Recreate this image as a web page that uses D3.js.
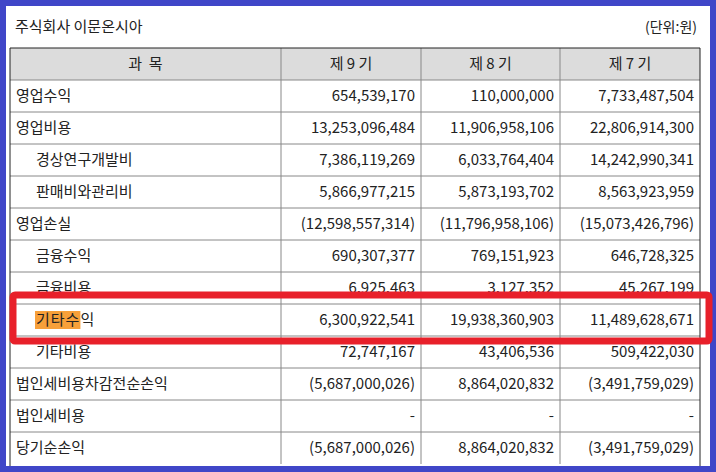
<!DOCTYPE html><html><head><meta charset="utf-8"><script src="https://cdn.jsdelivr.net/npm/d3@7"></script>
<style>body{margin:0;background:#fff}</style></head><body><svg id="c" width="716" height="472"></svg>
<script>
const title = "주식회사 이문온시아";
const unit = "(단위:원)";
const headers = ["과  목", "제 9 기", "제 8 기", "제 7 기"];
const items = ["영업수익","영업비용","경상연구개발비","판매비와관리비","영업손실","금융수익","금융비용","기타수익","기타비용","법인세비용차감전순손익","법인세비용","당기순손익"];
const indent = [0,0,1,1,0,1,1,1,1,0,0,0];
const period9 = ["654,539,170","13,253,096,484","7,386,119,269","5,866,977,215","(12,598,557,314)","690,307,377","6,925,463","6,300,922,541","72,747,167","(5,687,000,026)","-","(5,687,000,026)"];
const period8 = ["110,000,000","11,906,958,106","6,033,764,404","5,873,193,702","(11,796,958,106)","769,151,923","3,127,352","19,938,360,903","43,406,536","8,864,020,832","-","8,864,020,832"];
const period7 = ["7,733,487,504","22,806,914,300","14,242,990,341","8,563,923,959","(15,073,426,796)","646,728,325","45,267,199","11,489,628,671","509,422,030","(3,491,759,029)","-","(3,491,759,029)"];
const highlightRow = "기타수익";

const svg = d3.select("#c");
const font = "'Noto Sans CJK KR', sans-serif";
svg.append("rect").attr("width",716).attr("height",472).attr("fill","#4046c8");
svg.append("rect").attr("x",6).attr("y",6).attr("width",704).attr("height",460).attr("fill","#fff");
svg.append("text").attr("x",15).attr("y",32).attr("font-family",font).attr("font-size",15).attr("fill","#222").text(title);
svg.append("text").attr("x",697).attr("y",32).attr("text-anchor","end").attr("font-family",font).attr("font-size",14).attr("fill","#222").text(unit);

const colX = [10,281,421,560,700];
const y = d3.scaleBand().domain(["H",...items]).range([48,464]);
const bw = y.bandwidth();
svg.append("rect").attr("x",colX[0]).attr("y",y("H")).attr("width",colX[4]-colX[0]).attr("height",bw).attr("fill","#dcdcdc");
headers.forEach((h,i)=>svg.append("text").attr("x",(colX[i]+colX[i+1])/2).attr("y",y("H")+bw/2+5).attr("text-anchor","middle")
  .attr("font-family",font).attr("font-size",15).attr("fill","#222").attr("xml:space","preserve").text(h));
const cols=[period9,period8,period7];
items.forEach((it,r)=>{
  const yy=y(it)+bw/2+5;
  const tx=colX[0]+6+indent[r]*20;
  const hl = it===highlightRow ? svg.append("rect").attr("x",tx-1).attr("y",y(it)+7).attr("height",18).attr("fill","#f7a03a") : null;
  const t=svg.append("text").attr("x",tx).attr("y",yy).attr("font-family",font).attr("font-size",15).attr("letter-spacing",it===highlightRow?1:0).attr("fill","#222").text(it);
  if(hl){ hl.attr("width", t.node().getSubStringLength(0,3)+1); }
  cols.forEach((c,j)=>svg.append("text").attr("x",colX[j+2]-6).attr("y",yy).attr("text-anchor","end")
    .attr("font-family",font).attr("font-size",15).attr("fill","#222").text(c[r]));
});
["H",...items].forEach((k,i)=>{ if(i>0) svg.append("line").attr("x1",colX[0]).attr("x2",colX[4]).attr("y1",y(k)).attr("y2",y(k)).attr("stroke","#888");});
colX.slice(1,4).forEach(x=>svg.append("line").attr("x1",x).attr("x2",x).attr("y1",48).attr("y2",464).attr("stroke","#888"));
svg.append("line").attr("x1",colX[0]).attr("x2",colX[4]).attr("y1",48).attr("y2",48).attr("stroke","#222");
svg.append("line").attr("x1",colX[0]).attr("x2",colX[0]).attr("y1",48).attr("y2",466).attr("stroke","#222");
svg.append("line").attr("x1",colX[4]).attr("x2",colX[4]).attr("y1",48).attr("y2",466).attr("stroke","#222");
svg.append("rect").attr("x",13).attr("y",y(highlightRow)-9).attr("width",696).attr("height",bw+14)
  .attr("fill","none").attr("stroke","#e8202a").attr("stroke-width",7).attr("rx",2);
</script></body></html>
